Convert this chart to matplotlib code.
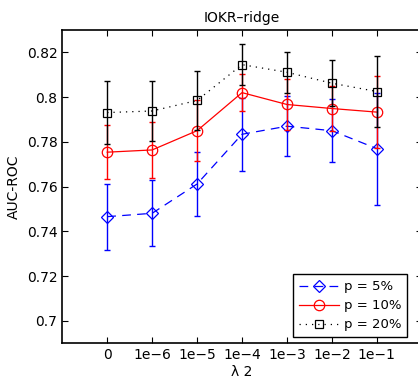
import numpy as np
import matplotlib
matplotlib.use("Agg")
import matplotlib.pyplot as plt

# valeurs
lambdas = ["0", "1e\u22126", "1e\u22125", "1e\u22124", "1e\u22123", "1e\u22122", "1e\u22121"]

auc_p5 = [0.7466, 0.7481, 0.7612, 0.7834, 0.7870, 0.7850, 0.7770]
err_p5 = [0.0148, 0.0147, 0.0145, 0.0162, 0.0134, 0.0140, 0.0250]

auc_p10 = [0.7754, 0.7764, 0.7850, 0.8020, 0.7967, 0.7949, 0.7933]
err_p10 = [0.0122, 0.0124, 0.0135, 0.0082, 0.0113, 0.0101, 0.0160]

auc_p20 = [0.7931, 0.7938, 0.7985, 0.8145, 0.8111, 0.8062, 0.8025]
err_p20 = [0.0140, 0.0136, 0.0130, 0.0091, 0.0091, 0.0102, 0.0157]

plt.rcParams['font.family'] = ['DejaVu Sans']
plt.rcParams['font.size'] = 10

fig = plt.figure(figsize=(4.18, 3.79), dpi=100)
ax = fig.add_axes([0.149, 0.094, 0.86, 0.827])

x = np.arange(len(lambdas))

# (valeurs, erreurs, couleur, style, marqueur, taille, label, tirets)
series = [
    (auc_p5, err_p5, 'b', '--', 'D', 6.0, 'p = 5%', (7, 5)),
    (auc_p10, err_p10, 'r', '-', 'o', 7.5, 'p = 10%', None),
    (auc_p20, err_p20, 'k', ':', 's', 5.5, 'p = 20%', (1, 4)),
]
for vals, errs, col, ls, mk, ms, lab, dash in series:
    ax.errorbar(x, vals, yerr=errs, color=col, ecolor=col, elinewidth=1.0,
                capsize=2.5, capthick=1.0, linestyle='none')
    line, = ax.plot(x, vals, color=col, linestyle=ls, linewidth=0.9,
                    marker=mk, markersize=ms,
                    markerfacecolor='none', markeredgecolor=col,
                    markeredgewidth=0.9, label=lab)
    if dash is not None:
        line.set_dashes(dash)

ax.set_xlim(-1, 7)
ax.set_ylim(0.69, 0.83)
ax.set_xticks(x)
ax.set_xticklabels(lambdas)
ax.set_yticks([0.70, 0.72, 0.74, 0.76, 0.78, 0.80, 0.82])
ax.set_yticklabels(["0.7", "0.72", "0.74", "0.76", "0.78", "0.8", "0.82"])
ax.tick_params(direction='in', top=True, right=True, length=4, width=0.8)
for sp in ax.spines.values():
    sp.set_linewidth(1.2)

ax.set_title("IOKR\u2013ridge", fontsize=10, pad=6)
ax.set_xlabel("\u03bb 2", labelpad=2)
ax.set_ylabel("AUC-ROC", labelpad=4)

leg = ax.legend(loc='lower right', bbox_to_anchor=(0.96, 0.02), borderaxespad=0,
                fancybox=False, edgecolor='k', framealpha=1, handlelength=3.0,
                handletextpad=0.4, borderpad=0.45, labelspacing=0.45, fontsize=9.5)
leg.get_frame().set_linewidth(1.0)

fig.savefig("out.png", dpi=100)
